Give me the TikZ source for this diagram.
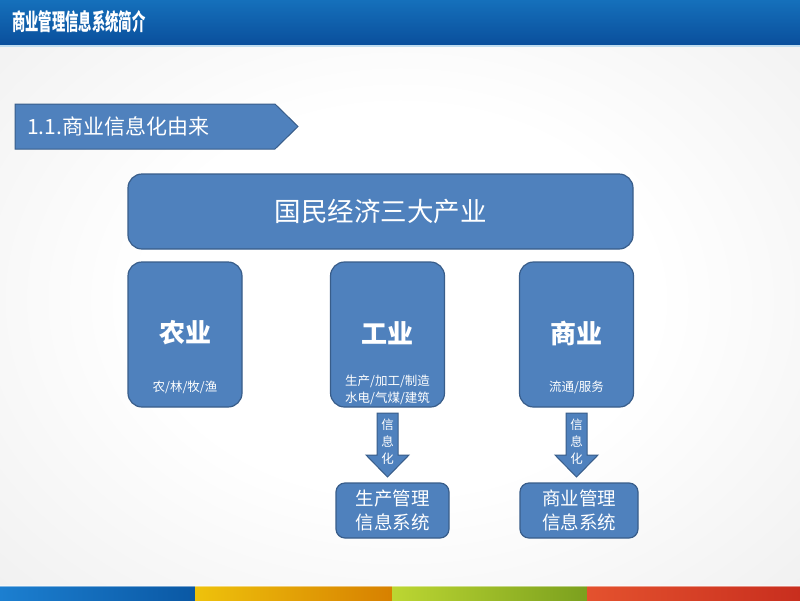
\documentclass[tikz,border=0pt]{standalone}
\usepackage{fontspec}
\usepackage{graphicx}
\setmainfont{Noto Sans CJK SC}
\usetikzlibrary{positioning}

\definecolor{boxfill}{HTML}{4F81BD}
\definecolor{boxline}{HTML}{385D8A}
\definecolor{bargray}{HTML}{D8D8D8}
\definecolor{titletop}{HTML}{1570BB}
\definecolor{titlebot}{HTML}{0A4F9C}
\definecolor{titleline}{HTML}{BFDDF0}
\definecolor{stripeblueA}{HTML}{1C7FD0}
\definecolor{stripeblueB}{HTML}{0A58A4}
\definecolor{stripeorangeA}{HTML}{EEC20C}
\definecolor{stripeorangeB}{HTML}{D78000}
\definecolor{stripegreenA}{HTML}{BCD632}
\definecolor{stripegreenB}{HTML}{7BA01E}
\definecolor{striperedA}{HTML}{E4522E}
\definecolor{striperedB}{HTML}{C82E1E}

\pgfdeclareradialshading{slidebg}{\pgfpoint{0bp}{0bp}}{%
  color(0bp)=(white); color(16bp)=(white); color(68bp)=(bargray)}

\tikzset{
  box/.style={draw=boxline, fill=boxfill, line width=1.2pt, rounded corners=14pt, inner sep=0pt, text=white},
  smallbox/.style={box, rounded corners=9pt},
  blockarrow/.style={draw=boxline, fill=boxfill, line width=1pt},
  label/.style={text=white, inner sep=0pt, align=center}
}

\begin{document}
\begin{tikzpicture}[x=1pt,y=-1pt]
% background
\shade[shading=slidebg] (0,0) rectangle (800,600);
\useasboundingbox (0,0) rectangle (800,600);

% title bar
\shade[top color=titletop, bottom color=titlebot] (0,0) rectangle (800,45);
\fill[titleline] (0,45) rectangle (800,47);
\node[anchor=west, text=white, inner sep=0pt, font=\bfseries\fontsize{23}{23}\selectfont] (title) at (12,21.5)
  {\scalebox{0.58}[1]{商业管理信息系统简介}};

% bottom stripes
\shade[left color=stripeblueA, right color=stripeblueB] (0,586) rectangle (195,600);
\shade[left color=stripeorangeA, right color=stripeorangeB] (195,586) rectangle (392,600);
\shade[left color=stripegreenA, right color=stripegreenB] (392,586) rectangle (587,600);
\shade[left color=striperedA, right color=striperedB] (587,586) rectangle (800,600);
\fill[white, opacity=0.45] (0,585) rectangle (800,587);

% section tag
\draw[blockarrow] (15,104) -- (275,104) -- (298,126.5) -- (275,149) -- (15,149) -- cycle;
\node[label, anchor=west, font=\fontsize{21}{21}\selectfont] (sec) at (27,126.5) {1.1.商业信息化由来};

% economy
\node[box, minimum width=505pt, minimum height=75pt] (eco) at (380.5,211.5) {};
\node[label, font=\fontsize{26.5}{26.5}\selectfont] at (eco.center) {国民经济三大产业};

% sectors
\node[box, minimum width=114pt, minimum height=145pt] (nong) at (185,334.5) {};
\node[box, minimum width=114pt, minimum height=145pt] (gong) at (387.5,334.5) {};
\node[box, minimum width=114pt, minimum height=145pt] (shang) at (576.5,334.5) {};

\node[label, font=\bfseries\fontsize{26}{26}\selectfont] (nongt) at (185,333) {农业};
\node[label, font=\bfseries\fontsize{26}{26}\selectfont] (gongt) at (387.5,333) {工业};
\node[label, font=\bfseries\fontsize{26}{26}\selectfont] (shangt) at (576.5,333) {商业};

\node[label, font=\fontsize{12.5}{16.5}\selectfont] (nongs) at (185,387) {农/林/牧/渔};
\node[label, font=\fontsize{12.5}{16.5}\selectfont] (gongs) at (387.5,390) {生产/加工/制造\\水电/气煤/建筑};
\node[label, font=\fontsize{12.5}{16.5}\selectfont] (shangs) at (576.5,387) {流通/服务};

% systems
\node[smallbox, minimum width=113pt, minimum height=55pt] (sys1) at (392.5,510.5) {};
\node[smallbox, minimum width=118pt, minimum height=55pt] (sys2) at (579,510.5) {};
\node[label, font=\fontsize{18.5}{24}\selectfont] at (sys1.center) {生产管理\\信息系统};
\node[label, font=\fontsize{18.5}{24}\selectfont] at (sys2.center) {商业管理\\信息系统};

% informatization arrows
\draw[blockarrow] (377,413) -- (398,413) -- (398,455) -- (409,455) -- (387.5,477)
  -- (366,455) -- (377,455) -- cycle;
\node[label, font=\fontsize{12.5}{17}\selectfont] (inf1) at (387.5,442) {信\\息\\化};
\draw[blockarrow] (566,413) -- (587,413) -- (587,455) -- (598,455) -- (576.5,477)
  -- (555,455) -- (566,455) -- cycle;
\node[label, font=\fontsize{12.5}{17}\selectfont] (inf2) at (576.5,442) {信\\息\\化};
\end{tikzpicture}
\end{document}
